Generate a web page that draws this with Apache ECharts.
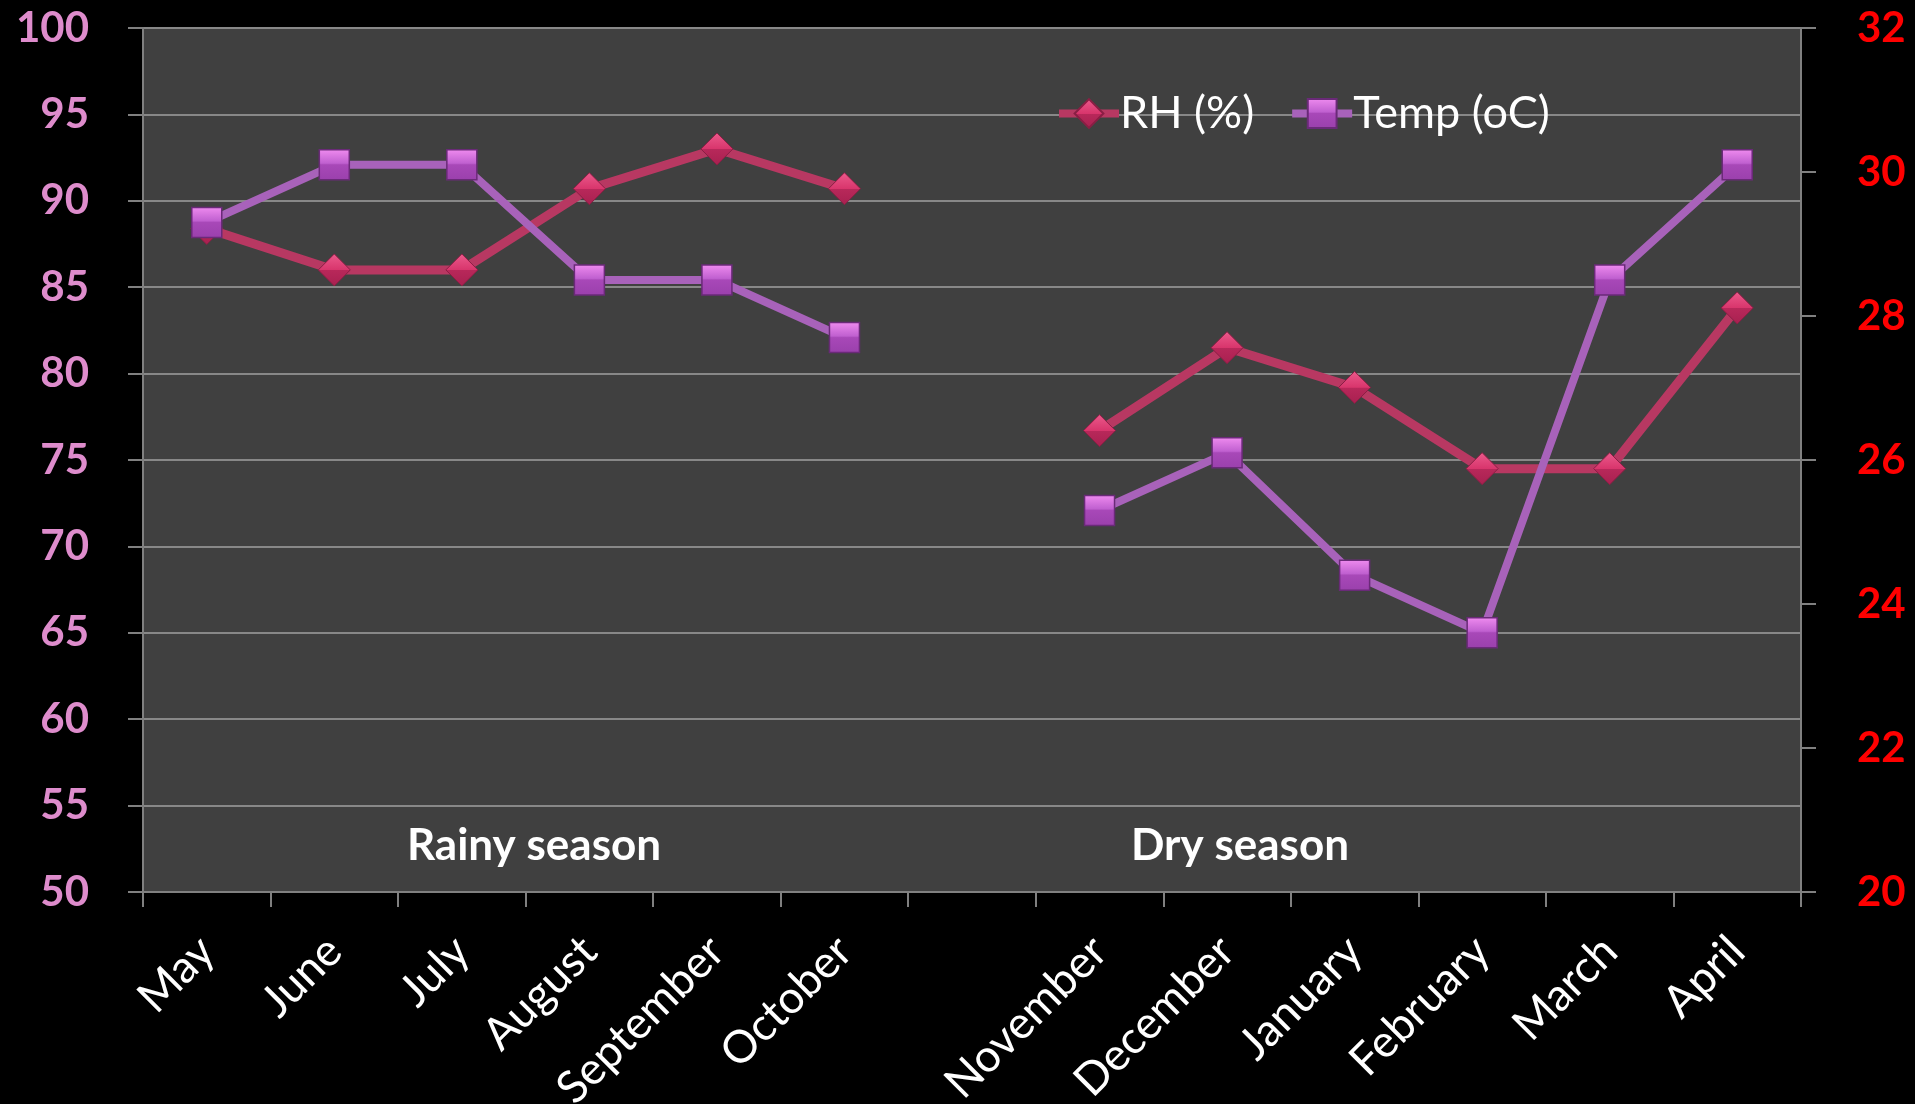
<!DOCTYPE html>
<html><head><meta charset="utf-8">
<script src="https://cdn.jsdelivr.net/npm/echarts@6/dist/echarts.min.js"></script>
<style>html,body{margin:0;padding:0;background:#000;}#c{width:1915px;height:1104px;}</style>
</head><body><div id="c"></div>
<script>
const categories = ['May','June','July','August','September','October','','November','December','January','February','March','April'];
const rhValues = [88.4, 86.0, 86.0, 90.7, 93.0, 90.7, null, 76.7, 81.5, 79.2, 74.5, 74.5, 83.8];
const tempValues = [29.3, 30.1, 30.1, 28.5, 28.5, 27.7, null, 25.3, 26.1, 24.4, 23.6, 28.5, 30.1];
const seasonLabels = ['Rainy season', 'Dry season'];

const FONT = 'Lato';
const chart = echarts.init(document.getElementById('c'));
const diamondFill = new echarts.graphic.LinearGradient(0,0,0,1,[
  {offset:0,color:'#EC5A8C'},{offset:0.5,color:'#D8356C'},{offset:0.51,color:'#B8285A'},{offset:1,color:'#A82050'}]);
const squareFill = new echarts.graphic.LinearGradient(0,0,0,1,[
  {offset:0,color:'#F08CF0'},{offset:0.45,color:'#C060D0'},{offset:0.5,color:'#A848B8'},{offset:1,color:'#9A40AC'}]);

chart.setOption({
  backgroundColor:'#000',
  animation:false,
  textStyle:{fontFamily:FONT},
  grid:{left:143,right:114,top:28,bottom:212,show:true,backgroundColor:'#404040',borderWidth:0,
        containLabel:false, outerBoundsMode:'none'},
  legend:{
    left:1050, top:86, itemGap:34, itemWidth:60, itemHeight:36,
    lineStyle:{width:8},
    textStyle:{color:'#fff',fontSize:45,fontFamily:FONT,padding:[0,0,0,-4]},
    data:['RH (%)','Temp (oC)']
  },
  xAxis:{
    type:'category', data:categories, boundaryGap:true,
    axisLine:{lineStyle:{color:'#808080',width:2}},
    axisTick:{show:true,interval:0,length:15,lineStyle:{color:'#808080',width:2}},
    axisLabel:{interval:0,rotate:45,color:'#fff',fontSize:45,fontFamily:FONT,margin:52},
    splitLine:{show:false}
  },
  yAxis:[{
    type:'value', min:50, max:100, interval:5, position:'left',
    axisLine:{show:true,lineStyle:{color:'#808080',width:2}},
    axisTick:{show:true,length:15,lineStyle:{color:'#808080',width:2}},
    axisLabel:{color:'#DE8CCC',fontSize:42,fontWeight:'bold',fontFamily:FONT,margin:54},
    splitLine:{show:true,lineStyle:{color:'#888888',width:2}}
  },{
    type:'value', min:20, max:32, interval:2, position:'right',
    axisLine:{show:true,lineStyle:{color:'#808080',width:2}},
    axisTick:{show:true,length:15,lineStyle:{color:'#808080',width:2}},
    axisLabel:{color:'#FF0000',fontSize:42,fontWeight:'bold',fontFamily:FONT,margin:56},
    splitLine:{show:false}
  }],
  series:[{
    name:'RH (%)', type:'line', yAxisIndex:0, data:rhValues, connectNulls:false,
    symbol:'diamond', symbolSize:[32,32],
    lineStyle:{color:'#B83862',width:9},
    itemStyle:{color:diamondFill,borderColor:'#8A1E44',borderWidth:1},
    z:2
  },{
    name:'Temp (oC)', type:'line', yAxisIndex:1, data:tempValues, connectNulls:false,
    symbol:'rect', symbolSize:[30,30],
    lineStyle:{color:'#A862BA',width:8},
    itemStyle:{color:squareFill,borderColor:'#6A2A78',borderWidth:1.5},
    z:3
  }],
  graphic:[
    {type:'text',x:534,y:846,style:{text:seasonLabels[0],fill:'#fff',font:'bold 44px '+FONT,textAlign:'center',textVerticalAlign:'middle'}},
    {type:'text',x:1240,y:846,style:{text:seasonLabels[1],fill:'#fff',font:'bold 44px '+FONT,textAlign:'center',textVerticalAlign:'middle'}}
  ]
});
</script></body></html>
